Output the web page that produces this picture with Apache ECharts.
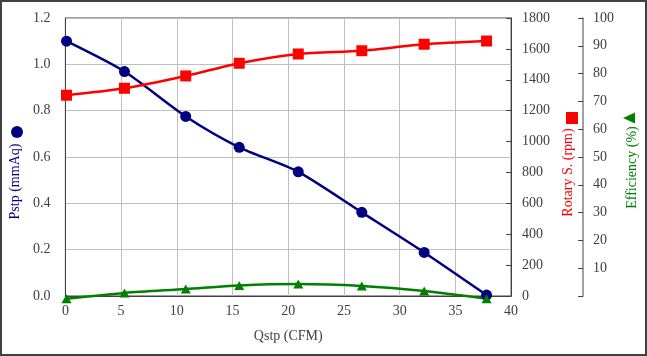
<!DOCTYPE html>
<html>
<head>
<meta charset="utf-8">
<script src="https://cdn.jsdelivr.net/npm/echarts@6/dist/echarts.min.js"></script>
<style>
html,body{margin:0;padding:0;background:#fff;}
#wrap{position:relative;width:647px;height:356px;}
#chart{width:647px;height:356px;}
#frame{position:absolute;left:0;top:0;width:647px;height:356px;box-sizing:border-box;border:2px solid #404040;pointer-events:none;}
</style>
</head>
<body>
<div id="wrap"><div id="chart"></div><div id="frame"></div></div>
<script>
// Data
const qstp = [0.1, 5.3, 10.8, 15.6, 20.9, 26.6, 32.2, 37.8];          // CFM
const pstp = [1.10, 0.969, 0.775, 0.642, 0.536, 0.361, 0.188, 0.004];  // mmAq
const rotary = [1300, 1345, 1425, 1507, 1567, 1588, 1630, 1651];       // rpm
const efficiency = [-1.0, 1.1, 2.5, 3.8, 4.3, 3.6, 1.8, -1.0];        // %

const FONT = 'Liberation Serif';
const LBL = '#404040';

const chart = echarts.init(document.getElementById('chart'), null, {renderer: 'canvas'});
const pair = (ys) => qstp.map((q, i) => [q, ys[i]]);

chart.setOption({
  animation: false,
  backgroundColor: '#fff',
  grid: {left: 63, right: 126, top: 18, bottom: 60, show: true, borderColor: '#404040', borderWidth: 1},
  xAxis: {
    type: 'value', min: 0, max: 40, interval: 5,
    name: 'Qstp (CFM)', nameLocation: 'middle', nameGap: 33,
    nameTextStyle: {fontFamily: FONT, fontSize: 14, color: LBL},
    axisLine: {show: true, onZero: false, lineStyle: {color: '#404040'}},
    axisTick: {show: false},
    axisLabel: {fontFamily: FONT, fontSize: 14, color: LBL, margin: 8},
    splitLine: {show: true, lineStyle: {color: '#bfbfbf', width: 1}}
  },
  yAxis: [
    {
      type: 'value', min: 0, max: 1.2, interval: 0.2, position: 'left',
      name: 'Pstp (mmAq)', nameLocation: 'middle', nameRotate: 90, nameGap: 39,
      nameTextStyle: {fontFamily: FONT, fontSize: 14, color: '#000080', padding: [0, 49, 0, 0]},
      axisLine: {show: true, lineStyle: {color: '#404040'}},
      axisTick: {show: false},
      axisLabel: {fontFamily: FONT, fontSize: 14, color: LBL, margin: 15, formatter: v => v.toFixed(1)},
      splitLine: {show: true, lineStyle: {color: '#bfbfbf', width: 1}}
    },
    {
      type: 'value', min: 0, max: 1800, interval: 200, position: 'right', offset: 0,
      name: 'Rotary S. (rpm)', nameLocation: 'middle', nameRotate: 90, nameGap: 49,
      nameTextStyle: {fontFamily: FONT, fontSize: 14, color: '#ff0000', padding: [0, 31, 0, 0]},
      axisLine: {show: true, lineStyle: {color: '#404040'}},
      axisTick: {show: true, inside: true, length: 5, lineStyle: {color: '#404040'}},
      axisLabel: {fontFamily: FONT, fontSize: 14, color: LBL, margin: 11, formatter: v => String(v)},
      splitLine: {show: false}
    },
    {
      type: 'value', min: 0, max: 100, interval: 10, position: 'right', offset: 72,
      name: 'Efficiency (%)', nameLocation: 'middle', nameRotate: 90, nameGap: 28,
      nameTextStyle: {fontFamily: FONT, fontSize: 14, color: '#008000', padding: [0, 21, 0, 0]},
      axisLine: {show: true, lineStyle: {color: '#808080', width: 1.5}},
      axisTick: {show: true, inside: true, length: 5, lineStyle: {color: '#404040'}},
      axisLabel: {fontFamily: FONT, fontSize: 14, color: LBL, margin: 10, formatter: v => v === 0 ? '' : String(v)},
      splitLine: {show: false}
    }
  ],
  series: [
    {
      type: 'line', name: 'Pstp', yAxisIndex: 0, data: pair(pstp), smooth: 0.25,
      symbol: 'circle', symbolSize: 11, clip: false,
      lineStyle: {color: '#000080', width: 2.5}, itemStyle: {color: '#000080'}
    },
    {
      type: 'line', name: 'Rotary', yAxisIndex: 1, data: pair(rotary), smooth: 0.25,
      symbol: 'rect', symbolSize: 11, clip: false,
      lineStyle: {color: '#ff0000', width: 2.5}, itemStyle: {color: '#ff0000'}
    },
    {
      type: 'line', name: 'Efficiency', yAxisIndex: 2, data: pair(efficiency), smooth: 0.3,
      symbol: 'triangle', symbolSize: [10, 9], clip: false,
      lineStyle: {color: '#008000', width: 2.5}, itemStyle: {color: '#008000'}
    }
  ],
  graphic: [
    {type: 'circle', shape: {cx: 17, cy: 132, r: 6}, style: {fill: '#000080'}},
    {type: 'rect', shape: {x: 566, y: 112, width: 12, height: 12}, style: {fill: '#ff0000'}},
    {type: 'polygon', shape: {points: [[623, 118], [635, 112.5], [635, 123.5]]}, style: {fill: '#008000'}}
  ]
});
</script>
</body>
</html>
